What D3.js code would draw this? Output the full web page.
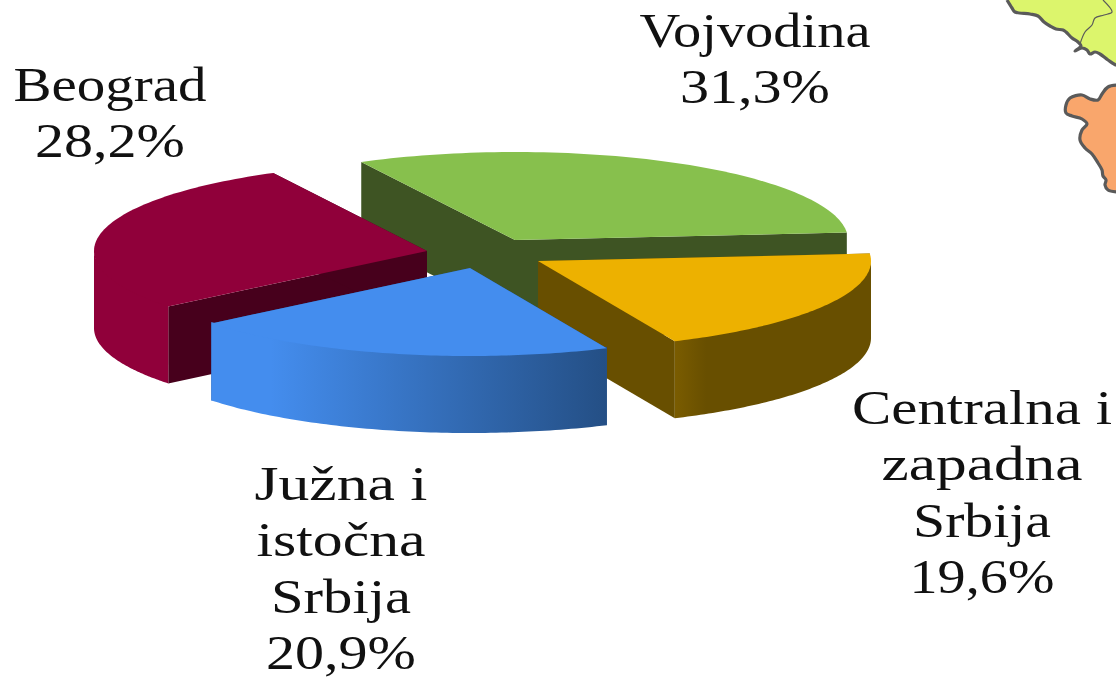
<html>

<head>
    <meta charset="utf-8">
    <title>Regioni</title>
    <script src="https://d3js.org/d3.v7.min.js"></script>
    <style>
        body { margin: 0; background: #fff; }
        svg { display: block; }
    </style>
</head>

<body>
    <script>
        const categories = ['Vojvodina', 'Centralna i zapadna Srbija', 'Južna i istočna Srbija', 'Beograd']
        const shares = [31.3, 19.6, 20.9, 28.2]
        const shareLabels = ['31,3%', '19,6%', '20,9%', '28,2%']
        const labelLines = [['Vojvodina'], ['Centralna i', 'zapadna', 'Srbija'], ['Južna i', 'istočna', 'Srbija'], ['Beograd']]

        // where each exploded slice has its tip, and the label block
        const tips = [[515, 240], [538, 261], [470, 268], [427, 251]]
        const labelPos = [[755, 47], [982, 424], [341, 500], [110, 101]]
        const rowWidths = [[231, 150], [260, 201, 138, 145], [173, 169, 140, 150], [193, 150]]
        const topColor = ['#87c04d', '#edb100', '#448dee', '#90003a']
        const cutColor = ['#3e5423', '#684f00', '#24508a', '#47001c']
        const rimStops = [['#3e5423', '#3e5423'], ['#7a5c00', '#684f00'], ['#448dee', '#244f85'], ['#90003a', '#90003a']]
        const drawOrder = [0, 3, 1, 2]

        const rx = 333, ry = 88, depth = 77
        const startDeg = -27.5
        const rad = Math.PI / 180

        // bits of the map that stick into the picture at the top right
        const mapNorth = [[1007, 0], [1012, 8], [1015, 12], [1030, 14], [1038, 16], [1044, 22], [1050, 26], [1056, 29], [1063, 30], [1066, 32], [1072, 38], [1078, 42], [1081, 46], [1075, 51], [1082, 48], [1087, 50], [1090, 54], [1095, 52], [1100, 54], [1108, 60], [1116, 65], [1120, 65], [1120, -5], [1007, -5]]
        const mapInner = [[1080, 44], [1085, 32], [1092, 25], [1095, 18], [1104, 15], [1112, 12], [1103, 0]]
        const mapSouth = [[1120, 85], [1108, 87], [1102, 94], [1098, 100], [1090, 99], [1082, 95], [1070, 98], [1066, 105], [1066, 113], [1072, 116], [1082, 119], [1087, 124], [1082, 130], [1080, 140], [1085, 148], [1092, 154], [1098, 163], [1102, 170], [1103, 176], [1106, 180], [1105, 185], [1108, 190], [1120, 192]]

        const svg = d3.select('body').append('svg')
            .attr('width', 1116)
            .attr('height', 680)

        const line = d3.line()
        const mapLine = d3.line().curve(d3.curveCatmullRom)

        svg.append('path').attr('d', mapLine(mapNorth)).attr('fill', '#dcf56c')
            .attr('stroke', '#5a5a5a').attr('stroke-width', 3.2)
        svg.append('path').attr('d', mapLine(mapInner)).attr('fill', 'none')
            .attr('stroke', '#5a5a5a').attr('stroke-width', 1.2)
        svg.append('path').attr('d', mapLine(mapSouth)).attr('fill', '#f9a66c')
            .attr('stroke', '#5a5a5a').attr('stroke-width', 3.2)

        const pie = d3.pie().sort(null)
            .startAngle(startDeg * rad)
            .endAngle((startDeg + 360) * rad)
        const slices = pie(shares)

        const defs = svg.append('defs')
        rimStops.forEach((stops, i) => {
            const grad = defs.append('linearGradient').attr('id', 'rim' + i)
            if (i === 1) {
                // yellow only brightens in a narrow band by the corner
                grad.append('stop').attr('offset', '0').attr('stop-color', stops[0])
                grad.append('stop').attr('offset', '0.16').attr('stop-color', stops[1])
            } else {
                grad.append('stop').attr('offset', '0.15').attr('stop-color', stops[0])
                grad.append('stop').attr('offset', '1').attr('stop-color', stops[1])
            }
        })

        function arcPoints(from, to, tip, dy) {
            const n = 80
            return d3.range(n + 1).map(k => {
                const a = from + (to - from) * k / n
                return [tip[0] + rx * Math.sin(a), tip[1] - ry * Math.cos(a) + dy]
            })
        }

        drawOrder.forEach(i => {
            const d = slices[i]
            const tip = tips[i]
            const top = arcPoints(d.startAngle, d.endAngle, tip, 0)
            const g = svg.append('g')

            // the two cut faces
            const first = top[0], last = top[top.length - 1]
            const shift = p => [p[0], p[1] + depth]
            g.append('path').attr('d', line([tip, first, shift(first), shift(tip)]) + 'Z')
                .attr('fill', cutColor[i])
            g.append('path').attr('d', line([tip, last, shift(last), shift(tip)]) + 'Z')
                .attr('fill', cutColor[i])

            // outer rim, only the part that faces the viewer
            // starts a bit under the top face so no pale seam shows
            const from = Math.max(d.startAngle, 90 * rad)
            const to = Math.min(d.endAngle, 270 * rad)
            if (from < to) {
                const upper = arcPoints(from, to, tip, -1.5)
                const lower = arcPoints(from, to, tip, depth)
                g.append('path').attr('d', line(upper.concat(lower.reverse())) + 'Z')
                    .attr('fill', `url(#rim${i})`)
            }

            // top face
            g.append('path').attr('d', line([tip].concat(top)) + 'Z')
                .attr('fill', topColor[i])
        })

        const labels = svg.append('g')
            .attr('font-family', '"Liberation Serif"')
            .attr('font-size', 49)
            .attr('fill', '#111')
            .attr('text-anchor', 'middle')

        categories.forEach((c, i) => {
            const rows = labelLines[i].concat([shareLabels[i]])
            rows.forEach((r, k) => {
                labels.append('text')
                    .attr('x', labelPos[i][0])
                    .attr('y', labelPos[i][1] + k * 56.3)
                    .attr('textLength', rowWidths[i][k])
                    .attr('lengthAdjust', 'spacingAndGlyphs')
                    .text(r)
            })
        })
    </script>

</body>

</html>
